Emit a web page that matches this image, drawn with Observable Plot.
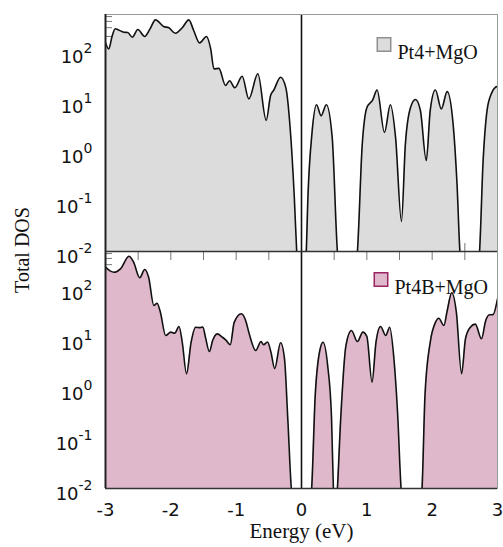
<!DOCTYPE html>
<html><head><meta charset="utf-8">
<script src="https://cdn.jsdelivr.net/npm/d3@7"></script>
<script src="https://cdn.jsdelivr.net/npm/@observablehq/plot@0.6"></script>
<style>
body{margin:0;background:#fff;}
#chart{position:relative;width:503px;height:547px;}
#chart svg{position:absolute;left:0;overflow:visible;background:transparent;}
#ylab{position:absolute;left:22px;top:250px;transform:translate(-50%,-50%) rotate(-90deg);font-family:"Liberation Serif","Times New Roman",serif;font-size:20px;white-space:nowrap;color:#111;}
</style></head><body>
<div id="chart"><div id="ylab">Total DOS</div></div>
<script>
// ---------- data ----------
const energyTop = [-3.0,-2.95,-2.9,-2.85,-2.8,-2.72,-2.66,-2.59,-2.505,-2.4,-2.32,-2.235,-2.11,-2.03,-1.93,-1.825,-1.725,-1.65,-1.56,-1.455,-1.39,-1.34,-1.265,-1.163,-1.1,-1.02,-0.908,-0.806,-0.668,-0.54,-0.474,-0.423,-0.32,-0.24,-0.175,-0.11,-0.07,0,0.07,0.1,0.16,0.23,0.3,0.38,0.47,0.555,0.7,0.85,0.93,1.0,1.09,1.157,1.27,1.36,1.44,1.53,1.59,1.67,1.745,1.82,1.91,1.97,2.05,2.14,2.23,2.32,2.38,2.43,2.58,2.72,2.78,2.84,2.91,2.97,3.0];
const dosTop = [150,113,200,285,270,243,240,193,275,200,280,430,316,298,232,298,430,263,149,200,113,45,46,21,26,18.8,32,11.3,35.8,4.2,13,17,30.6,19,3.1,0.12,0.008,0.001,0.008,0.14,2.3,8.6,5.2,8.6,1.9,0.008,0.001,0.008,1.4,7.5,10.8,17,2.4,8.6,1.9,0.04,1.4,7.7,11,6.6,0.66,6.6,17,7.1,15.8,3.6,0.23,0.008,0.001,0.008,0.66,6.6,14.7,19.3,20];

const energyBottom = [-3.0,-2.93,-2.87,-2.77,-2.64,-2.57,-2.475,-2.4,-2.34,-2.26,-2.21,-2.16,-2.08,-2.0,-1.94,-1.875,-1.825,-1.76,-1.69,-1.62,-1.55,-1.51,-1.47,-1.41,-1.36,-1.29,-1.21,-1.16,-1.09,-1.03,-0.92,-0.855,-0.8,-0.7,-0.62,-0.58,-0.52,-0.47,-0.41,-0.32,-0.26,-0.21,-0.15,0,0.15,0.21,0.28,0.33,0.4,0.46,0.49,0.515,0.545,0.6,0.68,0.765,0.855,0.94,1.0,1.08,1.14,1.21,1.29,1.35,1.41,1.47,1.53,1.68,1.84,1.89,1.97,2.05,2.1,2.18,2.23,2.3,2.37,2.45,2.51,2.585,2.66,2.755,2.82,2.88,2.93,3.0];
const dosBottom = [267,225,212,248,443,336,164,240,168,45.7,50.8,33.6,11.5,13.4,12.8,17.4,8.4,1.97,8.4,16.8,16.5,17,10.6,5.5,9.1,12.4,10.6,9.4,7.5,21,31.2,23,12.4,5.75,8.7,7.5,8.5,5.5,2.5,8.2,3.9,0.25,0.008,0.001,0.008,0.72,5.75,8.4,2.9,0.25,0.008,0.003,0.008,0.25,7.2,14.5,8.7,13.4,11,1.34,8.4,17.4,11.5,16.8,4.6,0.34,0.008,0.001,0.008,0.72,8.4,21,25.5,18.2,36,82,33.6,1.97,9.9,16.8,19.4,9.9,23,29.8,30,62];

const seriesNames = ["Pt4+MgO", "Pt4B+MgO"];
const xDomain = [-3, 3];
const yDomain = [0.01, 550];
const xTickLabels = [-3, -2, -1, 0, 1, 2, 3];
const xMinorTicks = [-2.5, -2, -1.5, -1, -0.5, 0.5, 1, 1.5, 2, 2.5];
const yMajorTicks = [0.01, 0.1, 1, 10, 100];
const yMinorTicks = [200, 300, 400, 500];

// ---------- layout ----------
const W = 503, ML = 105, MR = 6, PH = 237;
const innerW = W - ML - MR;
const sans = "DejaVu Sans, Verdana, sans-serif";
const serif = "Liberation Serif, Times New Roman, serif";

function rows(es, vs) { return es.map((e, i) => ({e, v: vs[i]})); }

function panel({data, fill, swatchStroke, name, top}) {
  const legDx = top ? -113.5 : -116.5;
  const legTx = top ? -100 : -103;
  const legDy = top ? 30 : 28;
  const marks = [
    Plot.tickY(yMinorTicks, {y: d => d, insetRight: innerW - 7, stroke: "#777"}),
    Plot.tickY(yMajorTicks, {y: d => d, insetRight: innerW - 10, stroke: "#777"}),
    top
      ? Plot.tickX(xMinorTicks, {x: d => d, insetTop: PH - 8, stroke: "#777"})
      : Plot.tickX(xMinorTicks, {x: d => d, insetBottom: PH - 9, stroke: "#777"}),
    Plot.areaY(data, {x: "e", y1: yDomain[0], y2: "v", fill, curve: "monotone-x", clip: true}),
    Plot.lineY(data, {x: "e", y: "v", stroke: "#111", strokeWidth: 1.6, curve: "monotone-x", clip: true}),
    Plot.ruleX([0], {stroke: "#111", strokeWidth: 1.6}),
    Plot.frame({stroke: "#999"}),
    Plot.ruleX([xDomain[0]], {stroke: "#222", strokeWidth: 2}),
    Plot.ruleY([yDomain[0]], {stroke: "#333", strokeWidth: 1.6}),
    Plot.axisY(yMajorTicks, {tickSize: 0, tickPadding: 13, fontSize: 18, fontFamily: sans, fill: "#111",
      tickFormat: d => String(Math.round(Math.log10(d))), dy: 6, label: null}),
    Plot.dot([name], {frameAnchor: "top-right", dx: legDx, dy: legDy, symbol: "square", r: 7.6,
      fill, stroke: swatchStroke, strokeWidth: 1.5}),
    Plot.text([name], {frameAnchor: "top-right", dx: legTx, dy: legDy, textAnchor: "start",
      fontSize: 20, fontFamily: serif, fill: "#111", text: d => d})
  ];
  if (!top) {
    marks.push(Plot.axisX(xTickLabels, {tickSize: 0, tickPadding: 15, fontSize: 18, fontFamily: sans,
      fill: "#111", tickFormat: d => String(d), label: null}));
    marks.push(Plot.text(["Energy (eV)"], {frameAnchor: "bottom", dy: 49, fontSize: 21,
      fontFamily: serif, fill: "#111", text: d => d}));
  }
  return Plot.plot({
    width: W,
    height: top ? 251 : 296,
    marginTop: top ? 14 : 0,
    marginBottom: top ? 0 : 59,
    marginLeft: ML,
    marginRight: MR,
    x: {domain: xDomain, axis: null},
    y: {type: "log", domain: yDomain, axis: null},
    style: {background: "transparent", overflow: "visible"},
    marks
  });
}

function superscripts(svg) {
  d3.select(svg).selectAll('g[aria-label="y-axis tick label"] text').each(function() {
    const exp = this.textContent.replace("\u2212", "-");
    const t = d3.select(this);
    t.text(null);
    t.append("tspan").text("10");
    t.append("tspan").attr("dy", -10).attr("font-size", 14).text(exp);
  });
}

const chart = document.getElementById("chart");
const p1 = panel({data: rows(energyTop, dosTop), fill: "#dcdcdc", swatchStroke: "#8f8f8f", name: seriesNames[0], top: true});
const p2 = panel({data: rows(energyBottom, dosBottom), fill: "#dfb8cb", swatchStroke: "#9a2462", name: seriesNames[1], top: false});
superscripts(p1); superscripts(p2);
p1.style.top = "0px";
p2.style.top = "251px";
chart.appendChild(p2);
chart.appendChild(p1);
</script>
</body></html>
